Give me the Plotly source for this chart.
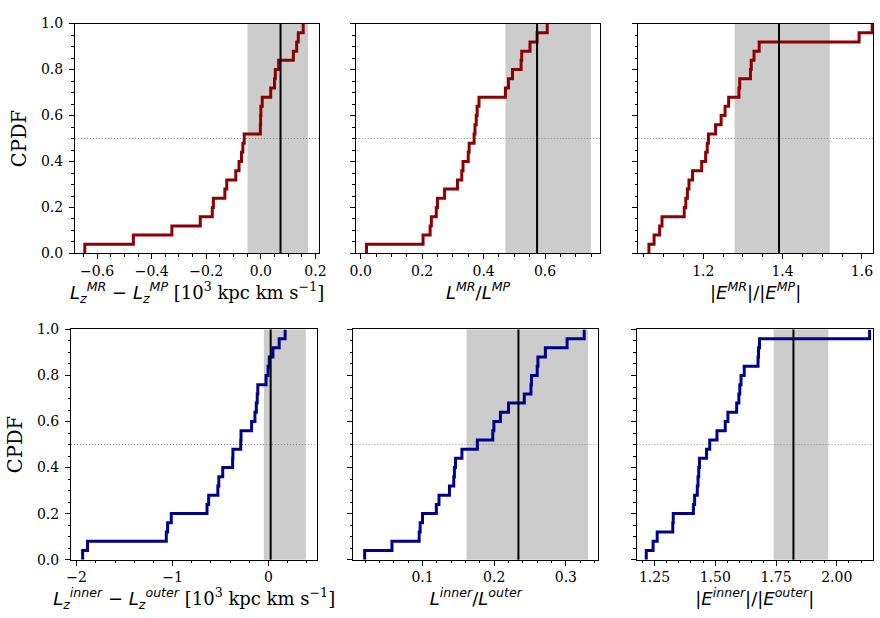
import plotly.graph_objects as go

# ---------------- data ----------------
cpdf_levels = [0.04, 0.08, 0.12, 0.16, 0.20, 0.24, 0.28, 0.32, 0.36, 0.40,
               0.44, 0.48, 0.52, 0.56, 0.60, 0.64, 0.68, 0.72, 0.76, 0.80,
               0.84, 0.88, 0.92, 0.96, 1.00]

dLz_MR_MP = [-0.645, -0.467, -0.326, -0.222, -0.178, -0.174, -0.132, -0.125,
             -0.092, -0.080, -0.071, -0.066, -0.061, -0.002, -0.001, 0.000,
             0.005, 0.036, 0.050, 0.053, 0.065, 0.119, 0.131, 0.137, 0.155]
L_MR_MP = [0.019, 0.203, 0.226, 0.230, 0.246, 0.250, 0.273, 0.315, 0.329,
           0.333, 0.350, 0.353, 0.369, 0.372, 0.376, 0.379, 0.385, 0.471,
           0.481, 0.494, 0.522, 0.524, 0.551, 0.574, 0.607]
E_MR_MP = [1.063, 1.076, 1.090, 1.096, 1.152, 1.156, 1.160, 1.164, 1.173,
           1.196, 1.206, 1.210, 1.213, 1.231, 1.245, 1.255, 1.264, 1.290,
           1.292, 1.319, 1.321, 1.328, 1.341, 1.593, 1.626]

dLz_in_out = [-1.938, -1.887, -1.065, -1.051, -1.013, -0.640, -0.623, -0.527,
              -0.517, -0.476, -0.373, -0.370, -0.288, -0.285, -0.175, -0.140,
              -0.126, -0.116, -0.110, -0.024, -0.003, 0.010, 0.048, 0.113, 0.175]
L_in_out = [0.0193, 0.0574, 0.0953, 0.0967, 0.1000, 0.1193, 0.1230, 0.1376,
            0.1436, 0.1445, 0.1460, 0.1550, 0.1765, 0.1980, 0.1996, 0.2087,
            0.2200, 0.2420, 0.2513, 0.2520, 0.2600, 0.2610, 0.2714, 0.3017, 0.3256]
E_in_out = [1.216, 1.244, 1.261, 1.325, 1.327, 1.410, 1.415, 1.426, 1.429,
            1.432, 1.435, 1.464, 1.477, 1.507, 1.541, 1.552, 1.588, 1.597,
            1.601, 1.606, 1.619, 1.676, 1.678, 1.682, 2.135]

# shaded interval and reference (vertical) value for each panel
bands = [(-0.049, 0.173), (0.471, 0.749), (1.279, 1.519),
         (-0.047, 0.391), (0.1614, 0.331), (1.7405, 1.965)]
refs = [0.072, 0.574, 1.391, 0.024, 0.2338, 1.8216]

series = [dLz_MR_MP, L_MR_MP, E_MR_MP, dLz_in_out, L_in_out, E_in_out]
colors = ["#8b0000", "#8b0000", "#8b0000", "#00008b", "#00008b", "#00008b"]

SANS = "font-family:DejaVu Sans"
xtitles = [
    f"<span style='{SANS}'><i>L</i><sub><i>z</i></sub><sup><i>MR</i></sup> − <i>L</i><sub><i>z</i></sub><sup><i>MP</i></sup></span> [10<sup>3</sup> kpc km s<sup>−1</sup>]",
    f"<span style='{SANS}'><i>L</i><sup><i>MR</i></sup>/<i>L</i><sup><i>MP</i></sup></span>",
    f"<span style='{SANS}'>|<i>E</i><sup><i>MR</i></sup>|/|<i>E</i><sup><i>MP</i></sup>|</span>",
    f"<span style='{SANS}'><i>L</i><sub><i>z</i></sub><sup><i>inner</i></sup> − <i>L</i><sub><i>z</i></sub><sup><i>outer</i></sup></span> [10<sup>3</sup> kpc km s<sup>−1</sup>]",
    f"<span style='{SANS}'><i>L</i><sup><i>inner</i></sup>/<i>L</i><sup><i>outer</i></sup></span>",
    f"<span style='{SANS}'>|<i>E</i><sup><i>inner</i></sup>|/|<i>E</i><sup><i>outer</i></sup>|</span>",
]

# axis layout
W, H = 880, 618
xdom_px = [(70, 318), (355, 603.3), (641.7, 880), (66, 316), (352.7, 601), (640, 880)]
ydom_px = [(16, 252)] * 3 + [(330, 566.3)] * 3
xranges = [(-0.681, 0.214), (-0.016, 0.78), (1.036, 1.628),
           (-2.059, 0.511), (0.0037, 0.345), (1.176, 2.149)]
xmajor = [0.2, 0.2, 0.2, 1.0, 0.1, 0.25]
xminor = [0.05, 0.05, 0.05, 0.2, 0.02, 0.05]
xfmt = [".1f", ".1f", ".1f", "d", ".1f", ".2f"]

fig = go.Figure()
layout = dict(width=W, height=H, margin=dict(l=0, r=0, t=0, b=0),
              paper_bgcolor="white", plot_bgcolor="white", showlegend=False,
              font=dict(family="DejaVu Serif", color="black", size=14))
shapes = []

for i in range(6):
    k = "" if i == 0 else str(i + 1)
    xa, ya = "x" + k, "y" + k
    xs = [series[i][0]] + series[i]
    ys = [0.0] + cpdf_levels
    fig.add_trace(go.Scatter(x=xs, y=ys, mode="lines", line_shape="hv",
                             line=dict(color=colors[i], width=3),
                             xaxis=xa, yaxis=ya, hoverinfo="skip"))
    x0, x1 = xdom_px[i]
    yt, yb = ydom_px[i]
    layout["xaxis" + k] = dict(
        domain=[x0 / W, min(x1 / W, 1.0)], range=list(xranges[i]), anchor=ya,
        showgrid=False, zeroline=False, showline=True, mirror=True,
        linecolor="black", linewidth=1, ticks="outside", ticklen=5,
        tickwidth=1, tickcolor="black", dtick=xmajor[i], tick0=0,
        tickformat=xfmt[i], tickfont=dict(size=14),
        minor=dict(dtick=xminor[i], tick0=0, ticks="outside", ticklen=2.5,
                   tickcolor="black", tickwidth=1),
        title=dict(text=xtitles[i], font=dict(size=18), standoff=5),
    )
    layout["yaxis" + k] = dict(
        domain=[1 - yb / H, 1 - yt / H], range=[0, 1], anchor=xa,
        showgrid=False, zeroline=False, showline=True, mirror=True,
        linecolor="black", linewidth=1, ticks="outside", ticklen=5,
        tickwidth=1, tickcolor="black", dtick=0.2, tick0=0,
        tickformat=".1f", showticklabels=(i % 3 == 0), tickfont=dict(size=14),
        ticklabelstandoff=3,
        minor=dict(dtick=0.05, tick0=0, ticks="outside", ticklen=2.5,
                   tickcolor="black", tickwidth=1),
        title=dict(text="CPDF" if i % 3 == 0 else "", font=dict(size=19.5),
                   standoff=9),
    )
    b0, b1 = bands[i]
    shapes.append(dict(type="rect", xref=xa, yref=ya + " domain", x0=b0, x1=b1,
                       y0=0, y1=1, fillcolor="#cccccc", line=dict(width=0),
                       layer="below"))
    shapes.append(dict(type="line", xref=xa + " domain", yref=ya, x0=0, x1=1,
                       y0=0.5, y1=0.5, line=dict(color="#8c8c8c", width=1,
                                                 dash="1px,2px"), layer="below"))
    shapes.append(dict(type="line", xref=xa, yref=ya + " domain", x0=refs[i],
                       x1=refs[i], y0=0, y1=1,
                       line=dict(color="black", width=2), layer="above"))

layout["shapes"] = shapes
fig.update_layout(**layout)
fig.write_html("out.html")
